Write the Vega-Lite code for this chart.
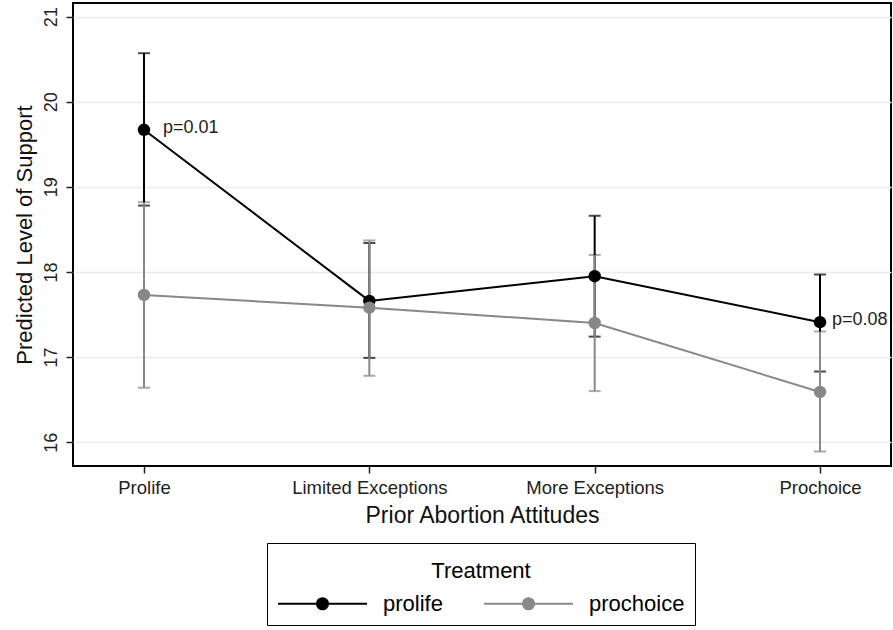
{
  "$schema": "https://vega.github.io/schema/vega-lite/v6.json",
  "width": 818,
  "height": 463,
  "autosize": {"type": "none"},
  "padding": {"left": 73, "top": 3, "right": 2, "bottom": 164},
  "background": "white",
  "config": {
    "font": "Liberation Sans",
    "view": {"stroke": "#000000", "strokeWidth": 2},
    "axis": {"domain": false, "titleFontWeight": "normal", "labelColor": "#222222", "titleColor": "#111111", "tickColor": "#222222", "tickWidth": 1.5, "tickSize": 7},
    "legend": {"labelFontSize": 22, "titleFontSize": 22, "titleFontWeight": "normal", "labelColor": "#000000", "titleColor": "#000000"}
  },
  "data": {
    "values": [
      {"attitude": "Prolife", "group": "prolife", "est": 19.67, "lo": 18.78, "hi": 20.57, "p": "p=0.01"},
      {"attitude": "Limited Exceptions", "group": "prolife", "est": 17.66, "lo": 16.99, "hi": 18.34, "p": null},
      {"attitude": "More Exceptions", "group": "prolife", "est": 17.95, "lo": 17.24, "hi": 18.66, "p": null},
      {"attitude": "Prochoice", "group": "prolife", "est": 17.41, "lo": 16.83, "hi": 17.97, "p": "p=0.08"},
      {"attitude": "Prolife", "group": "prochoice", "est": 17.73, "lo": 16.64, "hi": 18.82, "p": null},
      {"attitude": "Limited Exceptions", "group": "prochoice", "est": 17.58, "lo": 16.78, "hi": 18.37, "p": null},
      {"attitude": "More Exceptions", "group": "prochoice", "est": 17.40, "lo": 16.60, "hi": 18.20, "p": null},
      {"attitude": "Prochoice", "group": "prochoice", "est": 16.59, "lo": 15.89, "hi": 17.30, "p": null}
    ]
  },
  "encoding": {
    "x": {
      "field": "attitude", "type": "nominal",
      "sort": ["Prolife", "Limited Exceptions", "More Exceptions", "Prochoice"],
      "scale": {"type": "point", "padding": 0.315},
      "axis": {"title": "Prior Abortion Attitudes", "labelAngle": 0, "labelFontSize": 18.5, "labelPadding": 5, "titleFontSize": 23, "titlePadding": 8, "grid": false}
    },
    "color": {
      "field": "group", "type": "nominal",
      "scale": {"domain": ["prolife", "prochoice"], "range": ["#000000", "#888888"]},
      "legend": {
        "title": "Treatment",
        "orient": "none",
        "legendX": 194,
        "legendY": 540,
        "direction": "horizontal",
        "columns": 2,
        "padding": 10,
        "strokeColor": "#000000",
        "fillColor": "#ffffff",
        "titleAnchor": "middle",
        "titleBaseline": "line-top",
        "titleLineHeight": 38,
        "titlePadding": 16,
        "symbolType": "M-4,0H4M0.5,0A0.5,0.5,0,1,1,-0.5,0A0.5,0.5,0,1,1,0.5,0Z",
        "symbolSize": 495,
        "symbolStrokeWidth": 2,
        "symbolOpacity": 1,
        "symbolOffset": 33,
        "labelOffset": 48,
        "columnPadding": 37,
        "labelBaseline": "middle"
      }
    }
  },
  "layer": [
    {
      "mark": {"type": "errorbar", "ticks": {"size": 12, "thickness": 2}, "thickness": 2},
      "encoding": {
        "y": {
          "field": "lo", "type": "quantitative",
          "scale": {"domain": [15.72, 21.16], "nice": false, "zero": false},
          "axis": {"title": "Predicted Level of Support", "values": [16, 17, 18, 19, 20, 21], "format": "d", "labelAngle": -90, "labelAlign": "center", "labelBaseline": "bottom", "labelFontSize": 18, "labelPadding": 6, "titleFontSize": 22, "titlePadding": 6, "grid": true, "gridColor": "#ebebeb", "gridWidth": 1.5}
        },
        "y2": {"field": "hi"}
      }
    },
    {
      "mark": {"type": "line", "strokeWidth": 2},
      "encoding": {
        "y": {"field": "est", "type": "quantitative"}
      }
    },
    {
      "mark": {"type": "point", "filled": true, "opacity": 1, "size": 155},
      "encoding": {
        "y": {"field": "est", "type": "quantitative"}
      }
    },
    {
      "transform": [{"filter": "datum.attitude === 'Prolife' && datum.p != null"}],
      "mark": {"type": "text", "align": "left", "baseline": "middle", "dx": 19, "dy": -2, "fontSize": 18},
      "encoding": {
        "y": {"field": "est", "type": "quantitative"},
        "text": {"field": "p"},
        "color": {"value": "#222222"}
      }
    },
    {
      "transform": [{"filter": "datum.attitude === 'Prochoice' && datum.p != null"}],
      "mark": {"type": "text", "align": "left", "baseline": "middle", "dx": 12, "dy": -2, "fontSize": 18},
      "encoding": {
        "y": {"field": "est", "type": "quantitative"},
        "text": {"field": "p"},
        "color": {"value": "#222222"}
      }
    }
  ]
}
